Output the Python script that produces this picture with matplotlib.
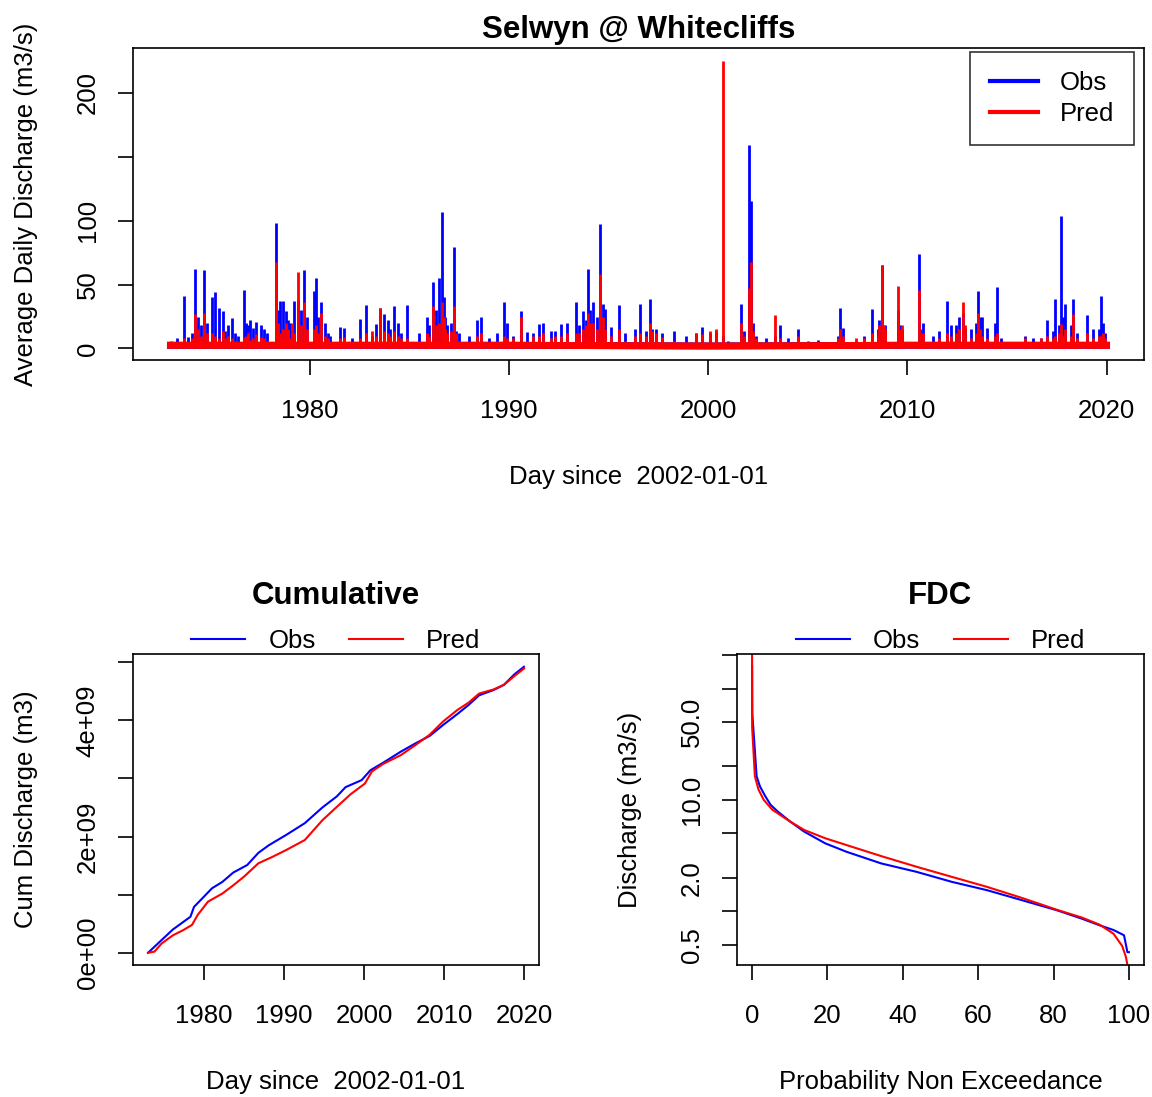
import matplotlib
matplotlib.use("Agg")
import matplotlib.pyplot as plt
from matplotlib.lines import Line2D
import numpy as np

plt.rcParams['font.family'] = ['Liberation Sans', 'DejaVu Sans']

# --- daily hydrograph: main flood events (decimal year, obs peak, pred peak) ---
ev_year = [1973.05, 1973.35, 1973.66, 1973.9, 1974.25, 1974.4, 1974.67, 1974.85, 1975.1, 1975.25,
           1975.45, 1975.65, 1975.9, 1976.1, 1976.4, 1976.67, 1976.8, 1977.0, 1977.3, 1977.55,
           1977.7, 1978.3, 1978.5, 1978.65, 1978.8, 1979.0, 1979.2, 1979.38, 1979.7, 1979.85,
           1980.2, 1980.3, 1980.55, 1980.75, 1981.0, 1981.5, 1981.7, 1982.1, 1982.5, 1982.8,
           1983.3, 1983.5, 1983.7, 1983.9, 1984.2, 1984.4, 1984.9, 1985.5, 1985.9, 1986.2,
           1986.5, 1986.64, 1986.8, 1987.23, 1987.5, 1988.0, 1988.4, 1988.6, 1989.0, 1989.4,
           1989.75, 1989.9, 1990.6, 1990.9, 1991.5, 1991.7, 1992.1, 1992.6, 1992.9, 1993.35,
           1993.7, 1993.97, 1994.2, 1994.57, 1994.8, 1995.1, 1995.5, 1995.8, 1996.3, 1996.6,
           1997.1, 1997.4, 1997.7, 1998.3, 1998.9, 1999.4, 1999.7, 2000.1, 2000.4, 2000.74,
           2001.0, 2001.66, 2002.05, 2002.14, 2002.4, 2002.9, 2003.34, 2003.6, 2004.0, 2004.5,
           2005.0, 2005.5, 2006.1, 2006.6, 2006.75, 2007.4, 2007.8, 2008.2, 2008.5, 2008.73,
           2008.9, 2009.55, 2009.75, 2010.56, 2010.8, 2011.3, 2011.6, 2011.97, 2012.2, 2012.6,
           2012.77, 2013.2, 2013.57, 2013.75, 2014.0, 2014.5, 2014.7, 2015.3, 2015.9, 2016.3,
           2016.7, 2017.0, 2017.4, 2017.73, 2017.9, 2018.3, 2018.5, 2019.0, 2019.3, 2019.7,
           2019.9]
ev_obs = [4, 8, 41, 9, 62, 25, 61, 20, 40, 44,
          32, 29, 18, 24, 10, 46, 20, 22, 21, 18,
          15, 98, 37, 37, 29, 20, 37, 38, 61, 25,
          45, 55, 36, 20, 10, 17, 16, 8, 23, 34,
          19, 32, 27, 22, 33, 20, 34, 12, 25, 52,
          55, 107, 25, 79, 12, 10, 22, 25, 8, 12,
          36, 20, 29, 13, 19, 20, 14, 19, 20, 36,
          29, 62, 36, 97, 31, 17, 34, 12, 15, 35,
          39, 15, 12, 14, 10, 12, 17, 12, 14, 10,
          6, 35, 159, 115, 10, 8, 10, 18, 8, 15,
          6, 7, 5, 32, 16, 6, 10, 31, 15, 65,
          18, 30, 15, 74, 20, 10, 14, 37, 18, 25,
          28, 15, 45, 25, 16, 48, 8, 5, 10, 8,
          8, 22, 39, 104, 35, 39, 12, 26, 15, 41,
          12]
ev_pred = [6, 5, 8, 4, 27, 15, 28, 12, 12, 10,
           8, 14, 10, 8, 5, 9, 10, 7, 11, 9,
           8, 68, 12, 15, 20, 8, 12, 60, 36, 15,
           15, 18, 28, 10, 5, 8, 9, 5, 8, 12,
           10, 32, 14, 12, 14, 10, 8, 6, 12, 33,
           20, 36, 15, 33, 6, 5, 10, 12, 5, 6,
           10, 8, 25, 6, 10, 12, 8, 10, 12, 12,
           15, 28, 20, 58, 15, 10, 15, 6, 10, 12,
           20, 12, 9, 6, 5, 12, 11, 14, 15, 225,
           4, 20, 47, 68, 8, 5, 26, 8, 4, 10,
           4, 5, 4, 15, 10, 8, 8, 12, 10, 65,
           15, 49, 18, 46, 12, 6, 8, 12, 10, 15,
           36, 8, 28, 10, 8, 12, 4, 4, 8, 5,
           8, 10, 10, 19, 15, 27, 8, 12, 8, 10,
           8]
# smaller freshes clustered around the big events
minor_year = [1974.1, 1974.55, 1975.75, 1976.25, 1976.9, 1977.15, 1977.85, 1978.4, 1978.9, 1979.1,
              1979.55, 1980.4, 1980.9, 1983.1, 1984.0, 1984.6, 1986.0, 1986.35, 1986.72, 1986.9,
              1987.1, 1987.35, 1990.2, 1991.2, 1992.3, 1993.5, 1993.85, 1994.05, 1994.4, 1994.7,
              1996.9, 1997.2, 2001.8, 2002.25, 2006.5, 2008.6, 2008.85, 2009.65, 2010.65, 2012.45,
              2012.9, 2013.45, 2013.65, 2014.4, 2017.3, 2017.6, 2017.8, 2018.2, 2019.6, 2019.8]
minor_obs = [12, 18, 14, 12, 18, 16, 12, 30, 22, 15,
             30, 25, 12, 10, 15, 12, 18, 30, 40, 18,
             20, 14, 10, 12, 14, 18, 22, 30, 25, 35,
             14, 15, 14, 20, 10, 22, 12, 18, 15, 18,
             16, 20, 25, 20, 14, 18, 25, 18, 15, 20]
minor_pred = [8, 10, 8, 6, 12, 8, 6, 20, 15, 20,
              18, 12, 8, 14, 10, 8, 10, 18, 25, 12,
              14, 12, 8, 10, 10, 12, 18, 20, 15, 25,
              10, 14, 10, 14, 8, 18, 18, 15, 12, 12,
              18, 12, 15, 10, 8, 12, 10, 10, 10, 12]
# base flow between events
base_year = [1973.0, 1980.0, 1990.0, 2000.0, 2010.0, 2020.0]
obs_base = [2.5, 2.5, 2.5, 2.0, 2.5, 2.5]
pred_base = [2.5, 2.5, 2.5, 2.0, 2.5, 2.5]

# --- cumulative discharge (1e9 m3) ---
cum_year_obs = [1973.0, 1974.7, 1976.1, 1977.4, 1978.3, 1978.75, 1979.6, 1981.0, 1982.3, 1983.65,
                1985.4, 1986.8, 1988.1, 1990.3, 1992.6, 1994.8, 1996.6, 1997.7, 1999.7, 2000.8,
                2002.4, 2004.6, 2006.4, 2008.2, 2009.9, 2011.7, 2013.05, 2014.4, 2016.2, 2017.5,
                2018.8, 2020.0]
cum_obs = [0.0, 0.22, 0.40, 0.53, 0.62, 0.79, 0.91, 1.11, 1.22, 1.38,
           1.51, 1.72, 1.85, 2.03, 2.23, 2.50, 2.69, 2.85, 2.97, 3.14,
           3.27, 3.46, 3.60, 3.73, 3.92, 4.11, 4.26, 4.43, 4.52, 4.61,
           4.79, 4.92]
cum_year_pred = [1973.0, 1973.8, 1974.7, 1976.1, 1977.4, 1978.5, 1979.2, 1980.5, 1982.3, 1983.65,
                 1985.0, 1986.8, 1988.55, 1990.3, 1992.6, 1994.8, 1996.6, 1998.35, 2000.1, 2001.0,
                 2002.4, 2004.6, 2006.4, 2008.2, 2009.9, 2011.7, 2013.05, 2014.4, 2016.2, 2017.5,
                 2018.8, 2020.0]
cum_pred = [0.0, 0.02, 0.16, 0.30, 0.39, 0.48, 0.65, 0.88, 1.02, 1.16,
            1.31, 1.54, 1.65, 1.77, 1.94, 2.28, 2.51, 2.73, 2.91, 3.12,
            3.25, 3.40, 3.57, 3.75, 3.98, 4.18, 4.30, 4.46, 4.53, 4.61,
            4.76, 4.89]

# --- flow duration curve ---
fdc_p_obs = [0.0, 0.05, 0.75, 1.2, 2.1, 3.5, 4.9, 6.8, 10.1, 13.8, 19.4, 25, 34.3, 43.7, 53,
             62.3, 71.6, 81, 87.5, 92.2, 95.9, 98.7, 99.6, 100]
fdc_obs = [159, 60, 27.4, 16.3, 13.2, 10.8, 9.05, 7.87, 6.40, 5.20, 4.08, 3.43, 2.69, 2.26, 1.84,
           1.55, 1.26, 1.02, 0.86, 0.75, 0.68, 0.61, 0.43, 0.43]
fdc_p_pred = [0.0, 0.02, 0.75, 1.7, 3.1, 5.4, 10.1, 13.8, 19.4, 25, 34.3, 43.7, 53, 62.3,
              71.6, 81, 87.5, 92.2, 95.9, 98.2, 99.2, 99.6]
fdc_pred = [225, 44.5, 16.3, 12.4, 10.0, 8.15, 6.40, 5.38, 4.53, 3.94, 3.13, 2.51, 2.04, 1.66,
            1.32, 1.03, 0.88, 0.76, 0.63, 0.49, 0.39, 0.33]

FS = 18.5
TFS = 22.5
W, H = 1152, 1097
fig = plt.figure(figsize=(W / 100, H / 100), dpi=100)


def axes_px(l, r, t, b):
    return fig.add_axes([l / W, 1 - b / H, (r - l) / W, (b - t) / H])


def r_style(ax):
    for s in ax.spines.values():
        s.set_linewidth(1.2)
    ax.tick_params(length=11, width=1.2, labelsize=FS)
    ax.tick_params(axis='x', pad=17)
    ax.tick_params(axis='y', pad=13)
    for lab in ax.get_yticklabels():
        lab.set_rotation(90)
        lab.set_va('center')


# top hydrograph
ax1 = axes_px(133, 1144, 48, 360)
ax1.plot(base_year, obs_base, color='blue', lw=5)
ax1.vlines(ev_year, 0, ev_obs, color='blue', lw=2)
ax1.vlines(minor_year, 0, minor_obs, color='blue', lw=2)
ax1.plot(base_year, pred_base, color='red', lw=5)
ax1.vlines(ev_year, 0, ev_pred, color='red', lw=2)
ax1.vlines(minor_year, 0, minor_pred, color='red', lw=2)
ax1.set_xlim(1971.12, 2021.88)
ax1.set_ylim(-9, 235)
ax1.set_xticks([1980, 1990, 2000, 2010, 2020])
ax1.set_yticks([0, 50, 100, 150, 200])
ax1.set_yticklabels(['0', '50', '100', '', '200'])
r_style(ax1)
ax1.set_title('Selwyn @ Whitecliffs', fontsize=TFS, fontweight='bold', pad=7)
ax1.set_xlabel('Day since  2002-01-01', fontsize=FS, labelpad=30)
ax1.set_ylabel('Average Daily Discharge (m3/s)', fontsize=FS, labelpad=27)
leg = ax1.legend([Line2D([], [], color='blue', lw=3), Line2D([], [], color='red', lw=3)],
                 ['Obs', 'Pred'], loc='upper right', bbox_to_anchor=(0.99, 0.987),
                 borderaxespad=0, fancybox=False, edgecolor='black', fontsize=FS,
                 handlelength=1.9, handletextpad=0.85, borderpad=0.75, labelspacing=0.25)
leg.get_frame().set_linewidth(1.2)

# cumulative
ax2 = axes_px(133, 539, 654, 965)
ax2.plot(cum_year_obs, np.array(cum_obs) * 1e9, color='blue', lw=1.5)
ax2.plot(cum_year_pred, np.array(cum_pred) * 1e9, color='red', lw=1.5)
ax2.set_xlim(1971.12, 2021.88)
ax2.set_ylim(-0.21e9, 5.14e9)
ax2.set_xticks([1980, 1990, 2000, 2010, 2020])
ax2.set_yticks([0, 1e9, 2e9, 3e9, 4e9, 5e9])
ax2.set_yticklabels(['0e+00', '', '2e+09', '', '4e+09', ''])
r_style(ax2)
ax2.set_title('Cumulative', fontsize=TFS, fontweight='bold', pad=36)
ax2.set_xlabel('Day since  2002-01-01', fontsize=FS, labelpad=30)
ax2.set_ylabel('Cum Discharge (m3)', fontsize=FS, labelpad=27)
ax2.legend([Line2D([], [], color='blue', lw=1.5), Line2D([], [], color='red', lw=1.5)],
           ['Obs', 'Pred'], loc='lower center', bbox_to_anchor=(0.5, 0.97), ncol=2,
           frameon=False, fontsize=FS, borderaxespad=0, handlelength=2.1,
           handletextpad=0.9, columnspacing=1.3)

# flow duration curve
ax3 = axes_px(737, 1144, 654, 965)
ax3.plot(fdc_p_obs, fdc_obs, color='blue', lw=1.5)
ax3.plot(fdc_p_pred, fdc_pred, color='red', lw=1.5)
ax3.set_yscale('log')
ax3.set_xlim(-4, 104)
ax3.set_ylim(0.33, 204)
ax3.set_xticks([0, 20, 40, 60, 80, 100])
ax3.set_yticks([0.5, 1, 2, 5, 10, 20, 50, 100, 200])
ax3.set_yticklabels(['0.5', '', '2.0', '', '10.0', '', '50.0', '', ''])
ax3.minorticks_off()
r_style(ax3)
ax3.set_title('FDC', fontsize=TFS, fontweight='bold', pad=36)
ax3.set_xlabel('Probability Non Exceedance', fontsize=FS, labelpad=30)
ax3.set_ylabel('Discharge (m3/s)', fontsize=FS, labelpad=27)
ax3.legend([Line2D([], [], color='blue', lw=1.5), Line2D([], [], color='red', lw=1.5)],
           ['Obs', 'Pred'], loc='lower center', bbox_to_anchor=(0.5, 0.97), ncol=2,
           frameon=False, fontsize=FS, borderaxespad=0, handlelength=2.1,
           handletextpad=0.9, columnspacing=1.3)

fig.savefig('out.png', dpi=100)
